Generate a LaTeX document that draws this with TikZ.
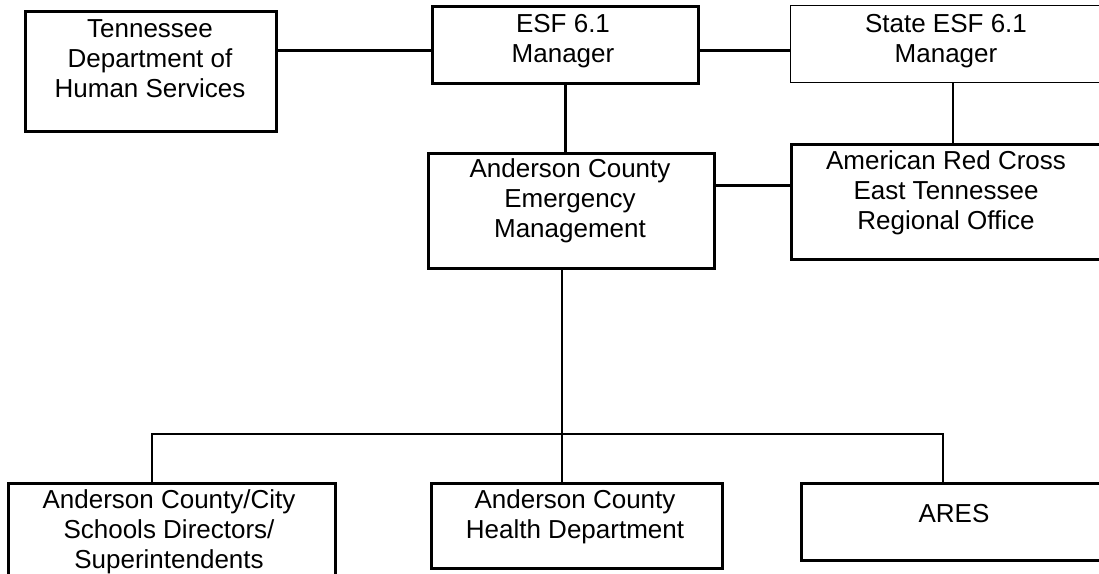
\documentclass[tikz,border=0pt]{standalone}
\usepackage{fontspec}
\setmainfont{Liberation Sans}
\usetikzlibrary{calc}
\begin{document}
\begin{tikzpicture}[x=1pt,y=-1pt,
  box/.style={draw=black,line width=3pt,rectangle,inner sep=0pt,anchor=north west},
  thinbox/.style={draw=black,line width=1.4pt,rectangle,inner sep=0pt,anchor=north west},
  lbl/.style={align=center,inner sep=0pt,anchor=base,font=\fontsize{26}{30}\selectfont},
  conn/.style={draw=black,line width=2.2pt},
  bus/.style={draw=black,line width=1.8pt}]
\useasboundingbox (0,0) rectangle (1099,573);
\clip (0,0) rectangle (1099,573);
% boxes
\node[box,minimum width=251pt,minimum height=120pt] (tdhs) at (24,10) {};
\node[box,minimum width=266pt,minimum height=77pt] (esf) at (431,5) {};
\node[thinbox,minimum width=312pt,minimum height=77pt] (state) at (790,5) {};
\node[box,minimum width=286pt,minimum height=115pt] (acem) at (427,152) {};
\node[box,minimum width=312pt,minimum height=115pt] (arc) at (790,143) {};
\node[box,minimum width=327pt,minimum height=110pt] (schools) at (7,482) {};
\node[box,minimum width=291pt,minimum height=85pt] (health) at (430,482) {};
\node[box,minimum width=310pt,minimum height=77pt] (ares) at (800,482) {};
% texts (anchored at the baseline of the last line)
\node[lbl] (tdhs-t) at (150,97) {Tennessee\\Department of\\Human Services};
\node[lbl] (esf-t) at (563,62) {ESF 6.1\\Manager};
\node[lbl] (state-t) at (946,62) {State ESF 6.1\\Manager};
\node[lbl] (acem-t) at (570,237) {Anderson County\\Emergency\\Management};
\node[lbl] (arc-t) at (946,229) {American Red Cross\\East Tennessee\\Regional Office};
\node[lbl] (schools-t) at (169,568) {Anderson County/City\\Schools Directors/\\Superintendents};
\node[lbl] (health-t) at (575,538) {Anderson County\\Health Department};
\node[lbl] (ares-t) at (954,522) {ARES};
% connectors
\draw[conn] ([yshift=-5.5pt]esf.west) -- ([yshift=-5.5pt]esf.west -| tdhs.east);
\draw[conn] ([yshift=-5.5pt]esf.east) -- ([yshift=-5.5pt]esf.east -| state.west);
\draw[conn] (esf.south) -- (esf.south |- acem.north);
\coordinate (sv) at (953,100);
\draw[conn] (sv |- state.south) -- (sv |- arc.north);
\draw[conn] ([yshift=25.5pt]acem.east) -- ([yshift=25.5pt]acem.east -| arc.west);
\coordinate (trunk) at (562,434);
\coordinate (bl) at (152,434);
\coordinate (br) at (943,434);
\draw[bus] (trunk |- acem.south) -- (trunk |- health.north);
\draw[bus] (bl |- schools.north) -- (bl) -- (br) -- (br |- ares.north);
\end{tikzpicture}
\end{document}
